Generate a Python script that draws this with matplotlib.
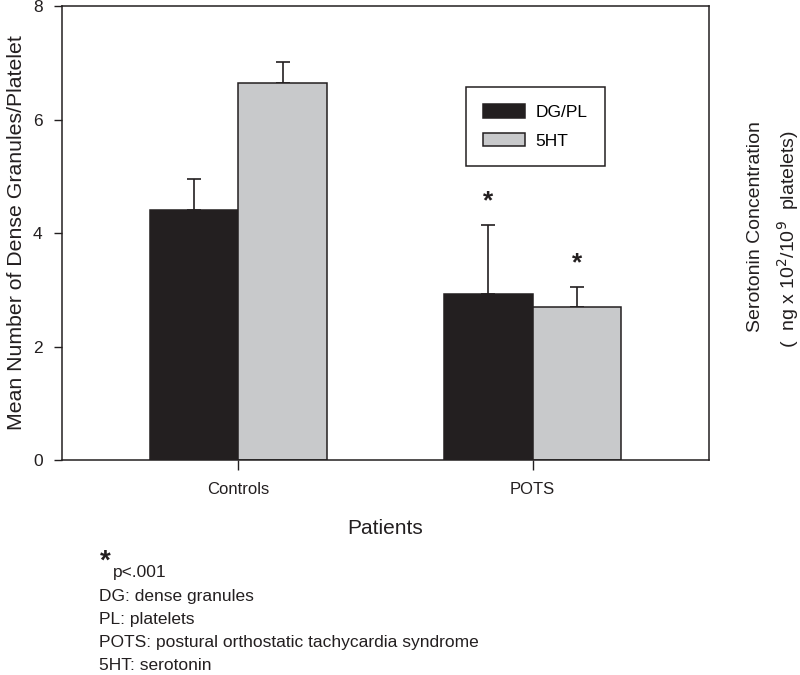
import matplotlib

matplotlib.use("Agg")
import matplotlib.pyplot as plt
import numpy as np

plt.rcParams["font.family"] = ["Liberation Sans", "DejaVu Sans"]

# values
groups = ["Controls", "POTS"]
series = ["DG/PL", "5HT"]
dg_means = [4.41, 2.93]
dg_sem = [0.55, 1.21]
ht_means = [6.64, 2.70]
ht_sem = [0.37, 0.35]
significant_dg = [False, True]
significant_ht = [False, True]
y_ticks = [0, 2, 4, 6, 8]
footnotes = [
    "DG: dense granules",
    "PL: platelets",
    "POTS: postural orthostatic tachycardia syndrome",
    "5HT: serotonin",
]

DARK = "#231f20"
GREY = "#c8c9cb"
width = 0.30

fig = plt.figure(figsize=(8, 6.75), dpi=100)
ax = fig.add_axes([0.0775, 0.3185, 0.8088, 0.6725])

x = np.arange(len(groups))
err_kw = dict(fmt="none", ecolor=DARK, elinewidth=1.2, capsize=5, capthick=1.2, zorder=1)

for offset, means, sem, color, label, sig in [
    (-width / 2, dg_means, dg_sem, DARK, series[0], significant_dg),
    (width / 2, ht_means, ht_sem, GREY, series[1], significant_ht),
]:
    xs = x + offset
    ax.errorbar(xs, means, yerr=[np.zeros(len(sem)), sem], **err_kw)
    ax.bar(xs, means, width=width, color=color, edgecolor=DARK, linewidth=1.1,
           label=label, zorder=2)
    for xi, m, s, flag in zip(xs, means, sem, sig):
        if flag:
            ax.text(xi, m + s + 0.2, "*", ha="center", va="bottom",
                    fontsize=19, fontweight="bold", color=DARK)

ax.set_xlim(-0.6, 1.6)
ax.set_ylim(0, 8)
ax.set_yticks(y_ticks)
ax.set_xticks(x)
ax.set_xticklabels(groups, fontsize=12)
ax.tick_params(axis="y", labelsize=12.5, direction="out", length=6, width=1,
               color=DARK, labelcolor=DARK, pad=8)
ax.tick_params(axis="x", direction="out", length=7, width=1, color=DARK,
               labelcolor=DARK, pad=9)
for sp in ax.spines.values():
    sp.set_color(DARK)
    sp.set_linewidth(1.1)

ax.set_ylabel("Mean Number of Dense Granules/Platelet", fontsize=15.3,
              color=DARK, labelpad=5)
ax.set_xlabel("Patients", fontsize=15, color=DARK, labelpad=16)

fig.text(755 / 800, 1 - 227 / 675, "Serotonin Concentration", rotation=90,
         ha="center", va="center", fontsize=14, color=DARK)
fig.text(788 / 800, 1 - 239 / 675,
         r"(  ng x 10$^{2}$/10$^{9}$  platelets)", rotation=90,
         ha="center", va="center", fontsize=14, color=DARK)

leg = ax.legend(loc="upper left", bbox_to_anchor=(466 / 800, 1 - 87 / 675),
                bbox_transform=fig.transFigure, fontsize=12.5, frameon=True,
                fancybox=False, edgecolor=DARK, framealpha=1,
                handlelength=2.4, handleheight=0.8, labelspacing=0.75,
                borderpad=1.0, borderaxespad=0, handletextpad=0.6)
leg.get_frame().set_linewidth(1.1)

fig.text(100 / 800, 1 - 562 / 675, "*", fontsize=20, fontweight="bold",
         color=DARK, ha="left", va="center")
fig.text(113 / 800, 1 - 573 / 675, "p<.001", fontsize=12.5, color=DARK,
         ha="left", va="center")
for i, line in enumerate(footnotes):
    fig.text(99 / 800, 1 - (596 + 23.3 * i) / 675, line, fontsize=12.5,
             color=DARK, ha="left", va="center")

fig.savefig("out.png", dpi=100)
